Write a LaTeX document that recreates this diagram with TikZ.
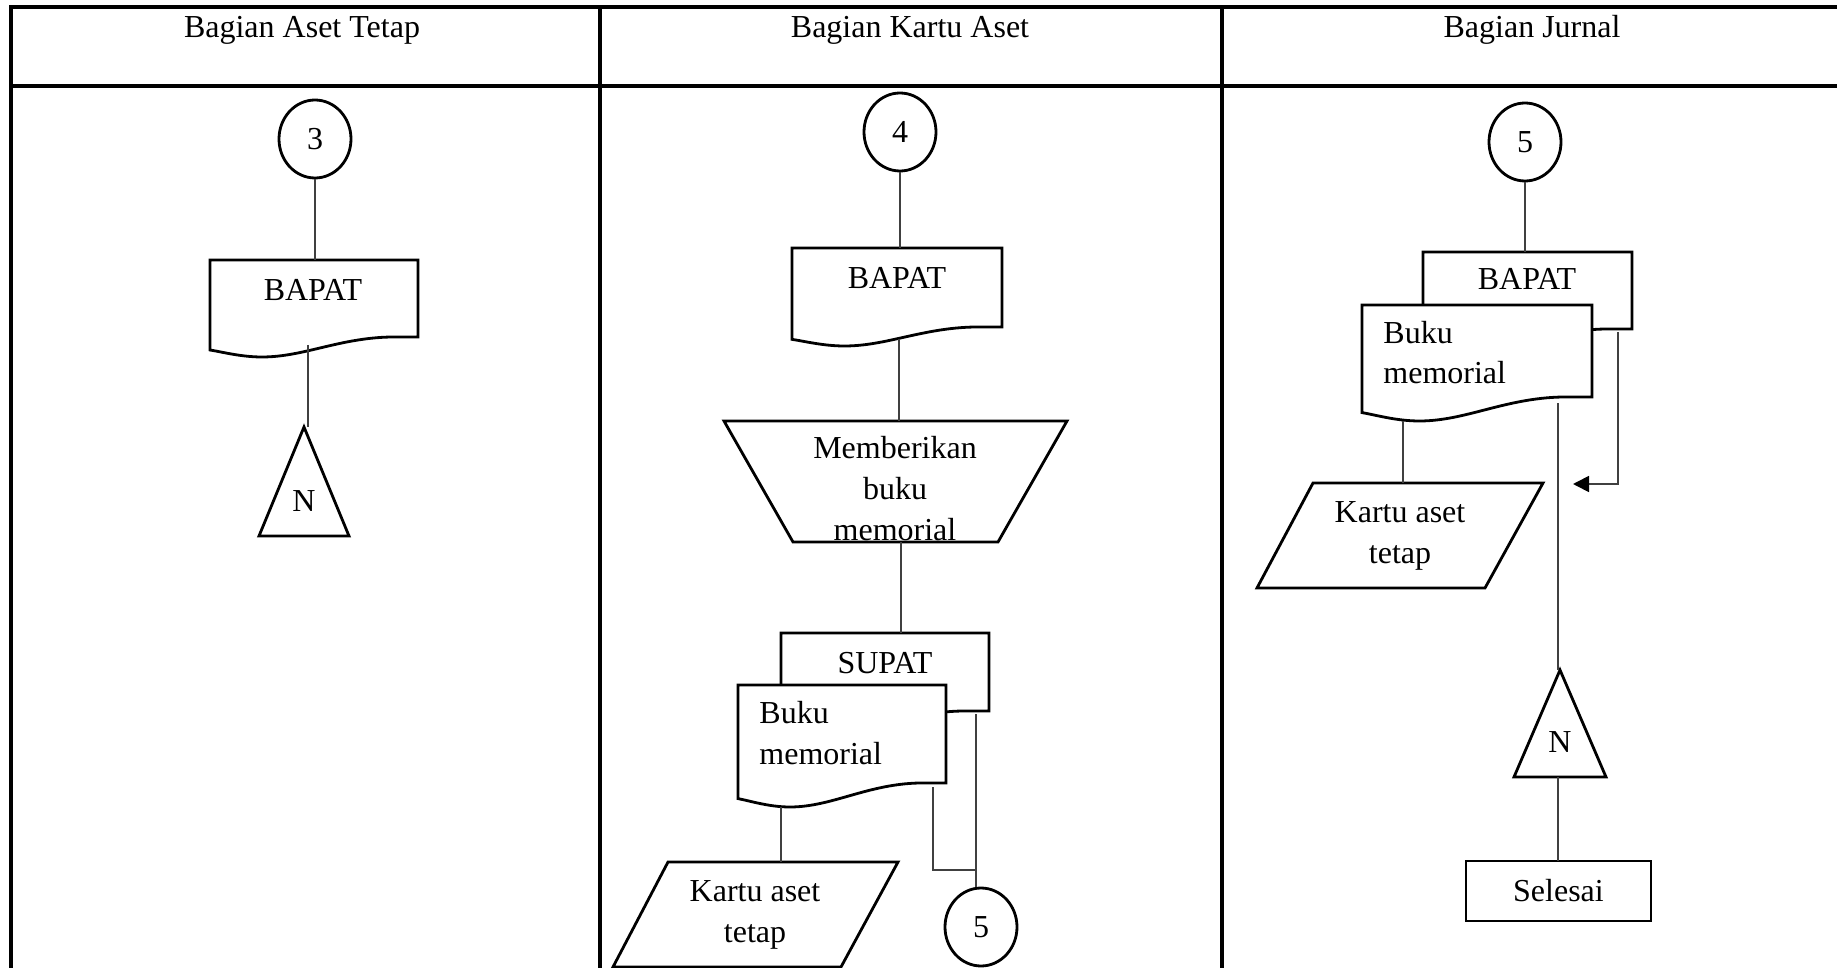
\documentclass[tikz,border=0pt]{standalone}
\usepackage{fontspec}
\setmainfont{Liberation Serif}
\usetikzlibrary{shapes.geometric,fit,calc,arrows.meta}

\tikzset{
  tbl/.style={line width=1.6pt, line cap=rect},
  shp/.style={line width=1.4pt, line join=miter, fill=white},
  conn/.style={line width=0.9pt, draw=black!75},
  txt/.style={inner sep=0pt, font=\fontsize{16}{20.5}\selectfont},
  box/.style={fit={#1}, inner sep=0pt, outer sep=0pt},
  connector/.style={ellipse, draw, line width=1.4pt, minimum width=36pt,
    minimum height=39pt, inner sep=0pt, font=\fontsize{16}{20.5}\selectfont},
  endbox/.style={rectangle, draw, line width=1.4pt, inner sep=0pt, outer sep=0pt,
    minimum width=92.5pt, minimum height=30pt, font=\fontsize{16}{20.5}\selectfont},
}

% document symbol drawn over a fitted node: #1 node, #2 depth of the wave
\newcommand\docoutline[2]{%
  \draw[shp] (#1.north west) -- (#1.north east) -- (#1.south east)
    -- ($(#1.south west)!0.87!(#1.south east)$)
    .. controls ($(#1.south west)!0.62!(#1.south east)+(0,0.05*#2)$)
    and ($(#1.south west)!0.45!(#1.south east)+(0,#2)$)
    .. ($(#1.south west)!0.25!(#1.south east)+(0,#2)$)
    .. controls ($(#1.south west)!0.15!(#1.south east)+(0,#2)$)
    and ($(#1.south west)!0.06!(#1.south east)+(0,0.75*#2)$)
    .. ($(#1.south west)+(0,0.65*#2)$) -- cycle;}

% off-page connector triangle over a fitted node
\newcommand\tri[1]{%
  \draw[shp] (#1.north) -- (#1.south east) -- (#1.south west) -- cycle;}

\begin{document}
\begin{tikzpicture}[x=0.5pt,y=-0.5pt]
\useasboundingbox (0,0) rectangle (1837,968);

% ---- swimlane table ----
\draw[tbl] (11,7) -- (1837,7);
\draw[tbl] (11,86) -- (1837,86);
\draw[tbl] (11,7) -- (11,968);
\draw[tbl] (600,7) -- (600,968);
\draw[tbl] (1222,7) -- (1222,968);

\node[txt, anchor=base] (hA) at (302,38) {Bagian Aset Tetap};
\node[txt, anchor=base] (hB) at (910,38) {Bagian Kartu Aset};
\node[txt, anchor=base] (hC) at (1532,38) {Bagian Jurnal};

% ---- Bagian Aset Tetap ----
\node[connector] (c3) at (315,139) {3};
\node[box={(210,260)(418,337)}] (bapA) {};
\docoutline{bapA}{20}
\node[txt, anchor=base] (tbapA) at (313,300) {BAPAT};
\node[box={(259,427)(349,536)}] (triA) {};
\tri{triA}
\node[txt, anchor=base] (nA) at (304,511) {N};
\coordinate (a1) at (308,345);

\draw[conn] (c3.south) -- (c3.south |- bapA.north);
\draw[conn] (a1) -- (a1 |- triA.north);

% ---- Bagian Kartu Aset ----
\node[connector] (c4) at (900,132) {4};
\node[box={(792,248)(1002,327)}] (bapB) {};
\docoutline{bapB}{19}
\node[txt, anchor=base] (tbapB) at (897,289) {BAPAT};

\node[box={(724,421)(1067,542)}] (trap) {};
\draw[shp] (trap.north west) -- (trap.north east) -- ($(trap.south east)+(-69,0)$)
  -- ($(trap.south west)+(69,0)$) -- cycle;
\node[txt, anchor=base, align=center] (ttrap) at (895,540) {Memberikan\\buku\\memorial};

\node[box={(781,633)(989,711)}] (supat) {};
\docoutline{supat}{20}
\node[txt, anchor=base] (tsupat) at (885,673) {SUPAT};
\node[box={(738,685)(946,783)}] (bukuB) {};
\docoutline{bukuB}{24}
\node[txt, anchor=base west, align=left] (tbukuB) at (759,764) {Buku\\memorial};

\node[box={(613,862)(898,967)}] (kartuB) {};
\draw[shp] ($(kartuB.north west)+(55,0)$) -- (kartuB.north east)
  -- ($(kartuB.south east)+(-57,0)$) -- (kartuB.south west) -- cycle;
\node[txt, anchor=base, align=center] (tkartuB) at (755,942) {Kartu aset\\tetap};

\node[connector] (c5a) at (981,927) {5};

\coordinate (b1) at (899,339);
\coordinate (b2) at (901,542);
\coordinate (b3) at (781,807);
\coordinate (b4) at (933,787);
\coordinate (b5) at (976,870);
\coordinate (b6) at (976,714);

\draw[conn] (c4.south) -- (c4.south |- bapB.north);
\draw[conn] (b1) -- (b1 |- trap.north);
\draw[conn] (b2) -- (b2 |- supat.north);
\draw[conn] (b3) -- (b3 |- kartuB.north);
\draw[conn] (b4) |- (b5);
\draw[conn] (b6) -- (b6 |- c5a.north);

% ---- Bagian Jurnal ----
\node[connector] (c5b) at (1525,142) {5};
\node[box={(1423,252)(1632,329)}] (bapC) {};
\docoutline{bapC}{20}
\node[txt, anchor=base] (tbapC) at (1527,290) {BAPAT};
\node[box={(1362,305)(1592,397)}] (bukuC) {};
\docoutline{bukuC}{24}
\node[txt, anchor=base west, align=left] (tbukuC) at (1383,384) {Buku\\memorial};

\node[box={(1257,483)(1543,588)}] (kartuC) {};
\draw[shp] ($(kartuC.north west)+(56,0)$) -- (kartuC.north east)
  -- ($(kartuC.south east)+(-58,0)$) -- (kartuC.south west) -- cycle;
\node[txt, anchor=base, align=center] (tkartuC) at (1400,563) {Kartu aset\\tetap};

\node[box={(1514,670)(1606,777)}] (triC) {};
\tri{triC}
\node[txt, anchor=base] (nC) at (1560,752) {N};

\node[endbox] (selesai) at (1558.5,891) {Selesai};

\coordinate (j1) at (1403,421);
\coordinate (j2) at (1558,403);
\coordinate (j3) at (1618,332);
\coordinate (j4) at (1618,484);
\coordinate (j5) at (1573,484);

\draw[conn] (c5b.south) -- (c5b.south |- bapC.north);
\draw[conn] (j1) -- (j1 |- kartuC.north);
\draw[conn] (j2) -- (j2 |- triC.north);
\draw[conn, -{Triangle[length=8pt,width=8pt,color=black]}] (j3) -- (j4) -- (j5);
\draw[conn] (triC.south -| j2) -- (j2 |- selesai.north);

\end{tikzpicture}
\end{document}
